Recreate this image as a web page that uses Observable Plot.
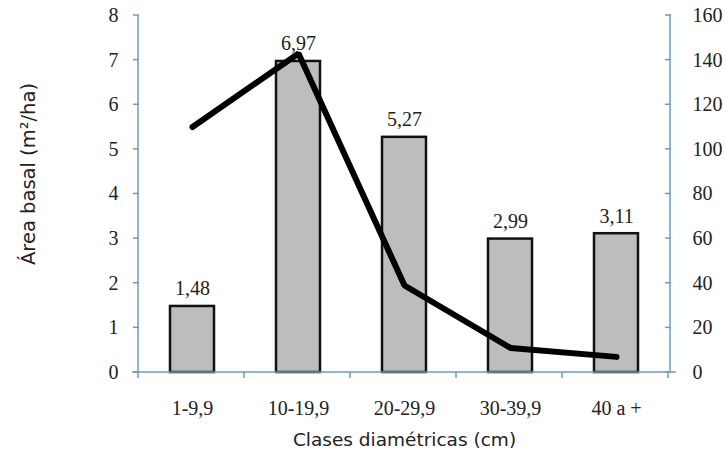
<!DOCTYPE html>
<html>
<head>
<meta charset="utf-8">
<script src="https://cdn.jsdelivr.net/npm/d3@7"></script>
<script src="https://cdn.jsdelivr.net/npm/@observablehq/plot@0.6"></script>
<style>
  html, body { margin: 0; padding: 0; background: #fff; }
  #chart svg { display: block; font-family: "Liberation Serif", serif; font-size: 20px; color: #222; background: #fff; }
</style>
</head>
<body>
<div id="chart"></div>
<script>
// Diameter classes
const classes = ["1-9,9", "10-19,9", "20-29,9", "30-39,9", "40 a +"];
// Basal area per class (m²/ha) — bars, left axis
const basalArea = [1.48, 6.97, 5.27, 2.99, 3.11];
// Trees per hectare per class — line, right axis (0–160)
const density = [110, 143, 39, 11, 7];
// Left axis ticks and right-axis tick labels
const leftTicks = [0, 1, 2, 3, 4, 5, 6, 7, 8];
const rightTicks = [0, 20, 40, 60, 80, 100, 120, 140, 160];

const rightMax = 160, leftMax = 8, ratio = rightMax / leftMax;

const bars = classes.map((c, i) => ({cls: c, area: basalArea[i]}));
const pts = classes.map((c, i) => ({cls: c, n: density[i]}));

const axisColor = "#6f9db6";
const serif = "Liberation Serif";
const sans = "DejaVu Sans";
const fmt = v => v.toFixed(2).replace(".", ",");

const plot = Plot.plot({
  width: 725,
  height: 471,
  marginLeft: 138,
  marginRight: 55,
  marginTop: 15,
  marginBottom: 99,
  x: {domain: classes, paddingInner: 0.585, paddingOuter: 0.2925},
  y: {domain: [0, leftMax]},
  marks: [
    Plot.barY(bars, {x: "cls", y: "area", fill: "#bdbdbd", stroke: "#111", strokeWidth: 2.5}),
    Plot.text(bars, {x: "cls", y: "area", text: d => fmt(d.area), lineAnchor: "bottom", dy: -11,
      fontFamily: serif, fontSize: 20, fill: "#222"}),
    Plot.line(pts, {x: "cls", y: d => d.n / ratio, stroke: "#000", strokeWidth: 6,
      strokeLinejoin: "miter", strokeLinecap: "round"}),
    Plot.axisY({anchor: "left", ticks: leftTicks, tickSize: 0, tickPadding: 20, label: null,
      fontSize: 20, fontFamily: serif}),
    Plot.axisY({anchor: "right", ticks: leftTicks, tickFormat: d => rightTicks[leftTicks.indexOf(d)],
      tickSize: 0, tickPadding: 22, label: null, fontSize: 20, fontFamily: serif, textAnchor: "start"}),
    Plot.axisX({tickSize: 0, tickPadding: 28, label: null, fontSize: 20, fontFamily: serif}),
    Plot.text(["Área basal (m²/ha)"], {frameAnchor: "left", textAnchor: "middle", lineAnchor: "middle",
      dx: -110, dy: -20, rotate: -90, fontFamily: sans, fontSize: 19.5, fill: "#222"}),
    Plot.text(["Clases diamétricas (cm)"], {frameAnchor: "bottom", textAnchor: "middle", lineAnchor: "middle",
      dy: 68, fontFamily: sans, fontSize: 18.5, fill: "#222"})
  ]
});

// Axis lines and tick marks drawn from the plot's own scales
const xs = plot.scale("x"), ys = plot.scale("y");
const x0 = xs.range[0], x1 = xs.range[1];
const yTop = ys.apply(leftMax), yBot = ys.apply(0);
const step = xs.step;
const g = d3.select(plot).append("g").attr("stroke", axisColor).attr("stroke-width", 1.5);
g.append("line").attr("x1", x0).attr("x2", x0).attr("y1", yTop).attr("y2", yBot);
g.append("line").attr("x1", x1).attr("x2", x1).attr("y1", yTop).attr("y2", yBot);
g.append("line").attr("x1", x0 - 6).attr("x2", x1 + 6).attr("y1", yBot).attr("y2", yBot);
leftTicks.forEach(t => {
  const y = ys.apply(t);
  g.append("line").attr("x1", x0 - 5).attr("x2", x0 + 1).attr("y1", y).attr("y2", y);
  g.append("line").attr("x1", x1 - 5).attr("x2", x1 + 1).attr("y1", y).attr("y2", y);
});
d3.range(classes.length + 1).forEach(i => {
  const x = x0 + i * step;
  g.append("line").attr("x1", x).attr("x2", x).attr("y1", yBot).attr("y2", yBot + 6);
});

document.getElementById("chart").append(plot);
</script>
</body>
</html>
